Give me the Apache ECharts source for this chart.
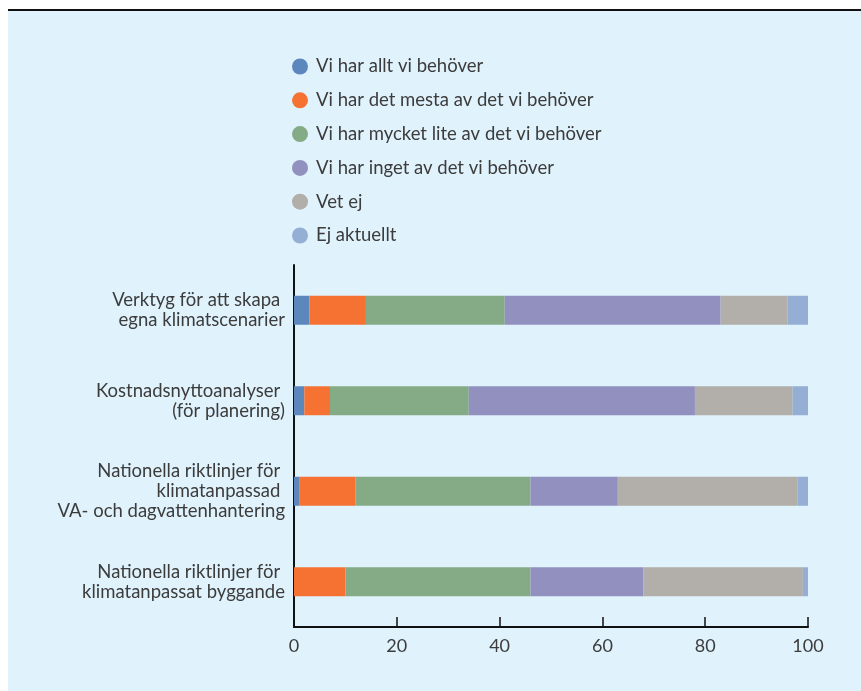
<!DOCTYPE html>
<html>
<head>
<meta charset="utf-8">
<script src="https://cdn.jsdelivr.net/npm/echarts@6/dist/echarts.min.js"></script>
<style>
  html, body { margin: 0; padding: 0; background: #fff; }
  #chart { width: 861px; height: 691px; }
</style>
</head>
<body>
<div id="chart"></div>
<script>
// kategorier (uppifrån och ned)
const categories = [
  'Verktyg för att skapa \negna klimatscenarier',
  'Kostnadsnyttoanalyser \n(för planering)',
  'Nationella riktlinjer för \nklimatanpassad \nVA- och dagvattenhantering',
  'Nationella riktlinjer för \nklimatanpassat byggande'
]

const seriesNames = [
  'Vi har allt vi behöver',
  'Vi har det mesta av det vi behöver',
  'Vi har mycket lite av det vi behöver',
  'Vi har inget av det vi behöver',
  'Vet ej',
  'Ej aktuellt'
]

// andelar i procent, en array per svarsalternativ
const alltValues = [3, 2, 1, 0]
const mestaValues = [11, 5, 11, 10]
const liteValues = [27, 27, 34, 36]
const ingetValues = [42, 44, 17, 22]
const vetEjValues = [13, 19, 35, 31]
const ejAktuelltValues = [4, 3, 2, 1]

const xTicks = [0, 20, 40, 60, 80, 100]

const colors = ['#5b87bd', '#f57233', '#85ab86', '#9190be', '#b2aea9', '#94aed4']
const textColor = '#3c3c3c'
const font = 'Lato'

const values = [alltValues, mestaValues, liteValues, ingetValues, vetEjValues, ejAktuelltValues]

const chart = echarts.init(document.getElementById('chart'))

const option = {
  animation: false,
  textStyle: { fontFamily: font },
  graphic: [
    {
      type: 'rect',
      z: -10,
      shape: { x: 8, y: 10, width: 853, height: 681 },
      style: { fill: '#e0f2fc' },
      silent: true
    },
    {
      type: 'line',
      z: -9,
      shape: { x1: 8, y1: 10, x2: 861, y2: 10 },
      style: { stroke: '#111', lineWidth: 2 },
      silent: true
    }
  ],
  legend: {
    orient: 'vertical',
    left: 287,
    top: 52,
    icon: 'circle',
    itemWidth: 16,
    itemHeight: 16,
    itemGap: 14.8,
    data: seriesNames,
    textStyle: {
      fontFamily: font,
      fontSize: 18.5,
      color: textColor,
      padding: [0, 0, 0, 3]
    }
  },
  grid: {
    left: 294,
    right: 53,
    top: 265,
    bottom: 64
  },
  xAxis: {
    type: 'value',
    min: 0,
    max: 100,
    interval: 20,
    axisLine: { show: true, lineStyle: { color: '#111', width: 2 } },
    axisTick: { show: true, inside: true, length: 10, lineStyle: { color: '#111', width: 1.5 } },
    splitLine: { show: false },
    axisLabel: {
      margin: 10,
      fontFamily: font,
      fontSize: 18,
      color: textColor,
      formatter: (v) => (xTicks.includes(v) ? String(v) : '')
    }
  },
  yAxis: {
    type: 'category',
    inverse: true,
    data: categories,
    axisLine: { show: true, lineStyle: { color: '#111', width: 2 } },
    axisTick: { show: false },
    axisLabel: {
      margin: 9,
      fontFamily: font,
      fontSize: 18.5,
      lineHeight: 20,
      align: 'right',
      color: textColor
    }
  },
  series: seriesNames.map((name, i) => ({
    name: name,
    type: 'bar',
    stack: 'total',
    barWidth: 29,
    data: values[i],
    itemStyle: { color: colors[i] }
  }))
}

chart.setOption(option)
</script>
</body>
</html>
